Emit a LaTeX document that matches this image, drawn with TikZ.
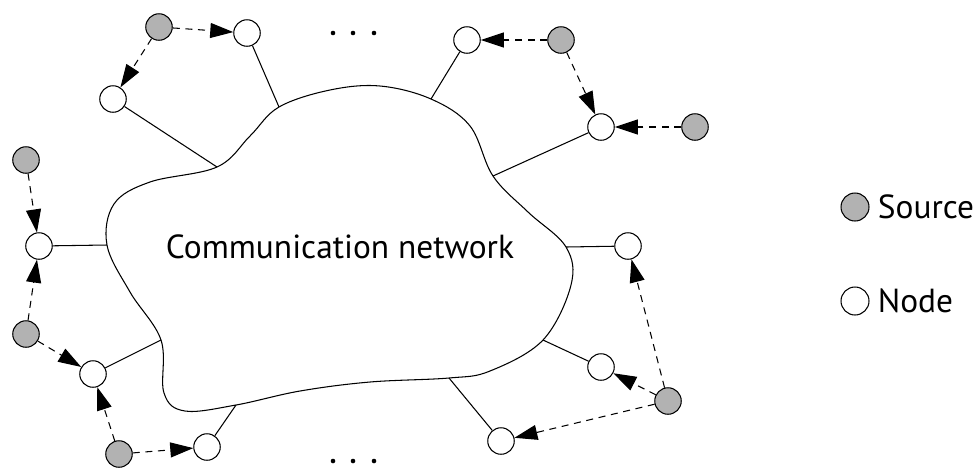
\documentclass[tikz,border=0pt]{standalone}
\usepackage{fontspec}
\setmainfont{PT Sans}
\usetikzlibrary{positioning,arrows.meta}
\definecolor{SourceGray}{RGB}{178,178,178}

\begin{document}
\begin{tikzpicture}[x=0.02cm,y=-0.02cm,
  src/.style={circle,draw,fill=SourceGray,line width=0.6pt,minimum size=0.53cm,inner sep=0pt},
  nd/.style={circle,draw,fill=white,line width=0.6pt,minimum size=0.53cm,inner sep=0pt},
  link/.style={line width=0.6pt},
  send/.style={line width=0.6pt,dash pattern=on 4pt off 3.2pt,-{Triangle[length=0.46cm,width=0.3cm]}}]
\useasboundingbox (0,0) rectangle (976,468);

% attachment points on the cloud
\coordinate (c1) at (279,107);
\coordinate (c2) at (217,167);
\coordinate (c3) at (107,245);
\coordinate (c4) at (161,340);
\coordinate (c5) at (236,405);
\coordinate (c6) at (431,99);
\coordinate (c7) at (493,176);
\coordinate (c8) at (566,247);
\coordinate (c9) at (543,340);
\coordinate (c10) at (449,378);

% the network cloud
\draw[line width=0.6pt] plot[smooth cycle,tension=0.6] coordinates {
  (c2) (250,136) (c1) (330,90) (380,86) (c6) (470,126) (c7) (528,212) (c8)
  (571,285) (c9) (490,371) (c10) (370,382) (300,391) (c5) (185,411) (164,393)
  (c4) (130,292) (c3) (114,204) (150,182)};
\node at (340,247) {\fontsize{19}{22}\selectfont Communication network};

% nodes
\node[nd] (n1) at (247,33) {};
\node[nd] (n2) at (113,99) {};
\node[nd] (n3) at (39,246) {};
\node[nd] (n4) at (93,374) {};
\node[nd] (n5) at (207,447) {};
\node[nd] (n6) at (467,40) {};
\node[nd] (n7) at (601,127) {};
\node[nd] (n8) at (628,246) {};
\node[nd] (n9) at (601,367) {};
\node[nd] (n10) at (501,441) {};

% sources
\node[src] (s1) at (159,27) {};
\node[src] (s2) at (26,160) {};
\node[src] (s3) at (26,334) {};
\node[src] (s4) at (119,454) {};
\node[src] (s5) at (561,40) {};
\node[src] (s6) at (695,127) {};
\node[src] (s7) at (668,401) {};

% links to the network
\foreach \i in {1,...,10}
  \draw[link] (n\i) -- (c\i);

% sources to nodes
\draw[send] (s1) -- (n1);
\draw[send] (s1) -- (n2);
\draw[send] (s2) -- (n3);
\draw[send] (s3) -- (n3);
\draw[send] (s3) -- (n4);
\draw[send] (s4) -- (n4);
\draw[send] (s4) -- (n5);
\draw[send] (s5) -- (n6);
\draw[send] (s5) -- (n7);
\draw[send] (s6) -- (n7);
\draw[send] (s7) -- (n8);
\draw[send] (s7) -- (n9);
\draw[send] (s7) -- (n10);

% dots
\foreach \x in {333,353,374} {
  \fill (\x,33) circle (2.3);
  \fill (\x,461) circle (2.3);
}

% legend
\node[src,minimum size=0.56cm] (legsrc) at (855,207) {};
\node[right=0.16cm of legsrc,inner sep=0pt] (legsrctext) {\fontsize{19}{22}\selectfont Source};
\node[nd,minimum size=0.56cm] (legnd) at (855,301) {};
\node[right=0.16cm of legnd,inner sep=0pt] (legndtext) {\fontsize{19}{22}\selectfont Node};
\end{tikzpicture}
\end{document}
